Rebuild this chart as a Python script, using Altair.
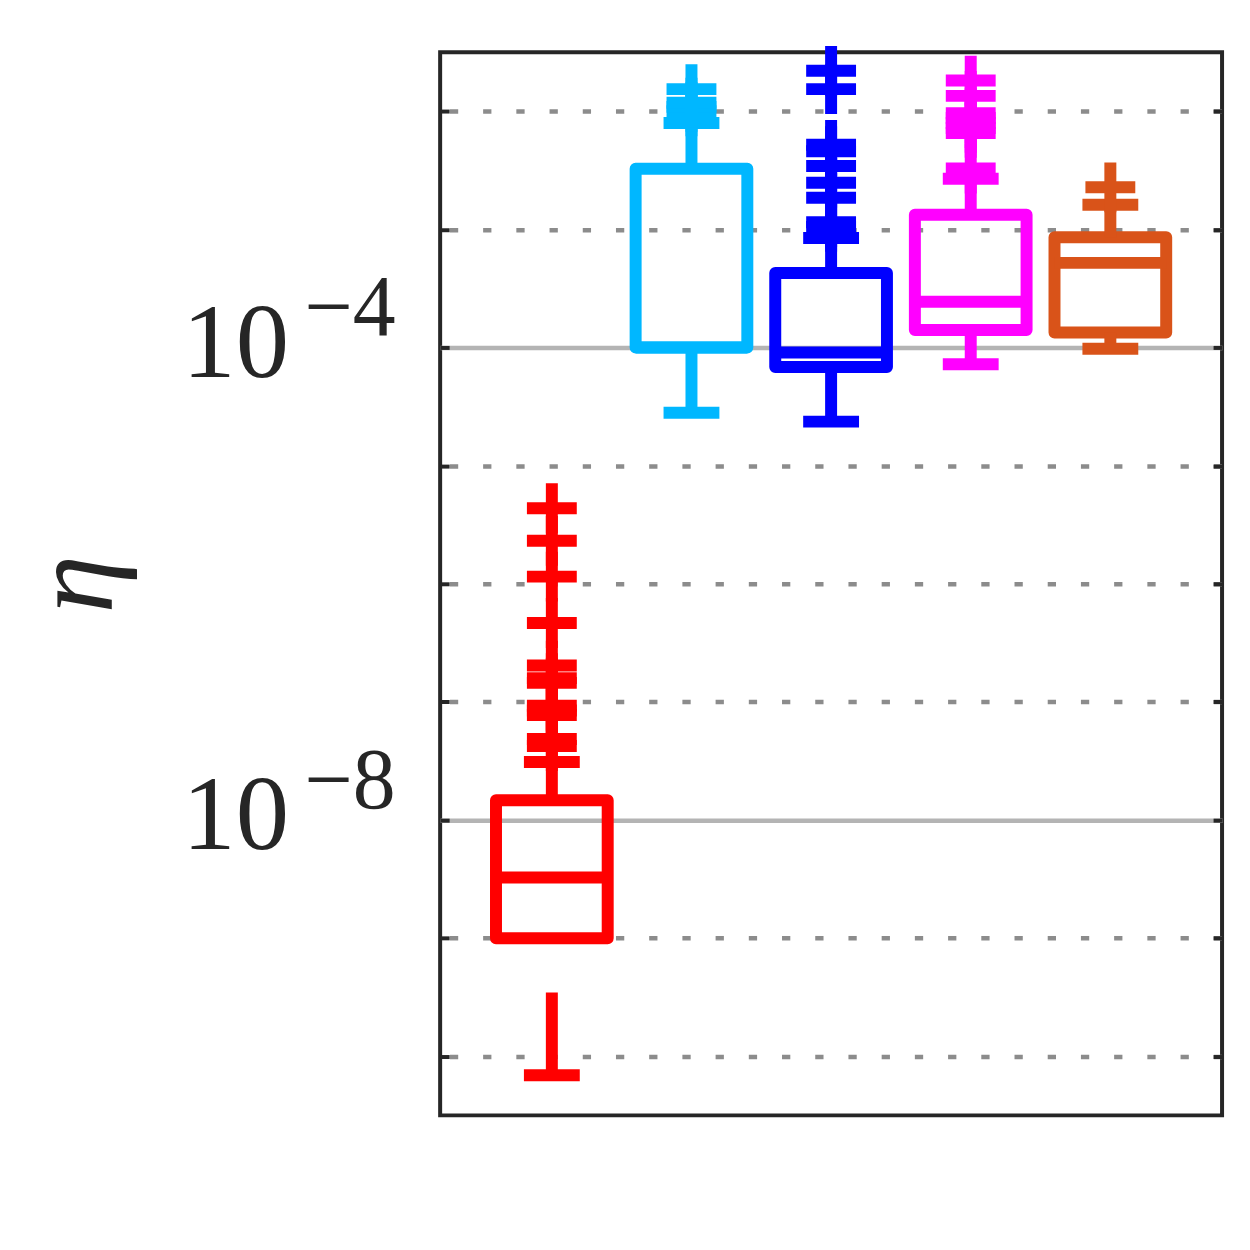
import altair as alt
import pandas as pd

# ---- data ----
positions = [1, 2, 3, 4, 5]
colors = ["#FF0000", "#00B7FF", "#0000FF", "#FF00FF", "#D95319"]
lower_whisker = [6.92e-11, 2.80e-5, 2.36e-5, 7.23e-5, 9.75e-5]
q1 = [1.00e-9, 1.00e-4, 6.84e-5, 1.41e-4, 1.34e-4]
median = [3.26e-9, 1.00e-4, 9.08e-5, 2.44e-4, 5.21e-4]
q3 = [1.47e-8, 3.26e-3, 4.27e-4, 1.33e-3, 8.59e-4]
upper_whisker = [3.10e-8, 7.96e-3, 8.47e-4, 2.69e-3, 1.62e-3]

outliers_1 = [4.24e-8, 4.85e-8, 7.74e-8, 8.47e-8, 9.29e-8, 1.45e-7, 1.59e-7,
              2.03e-7, 4.66e-7, 1.15e-6, 2.31e-6, 4.36e-6]
outliers_2 = [1.00e-2, 1.09e-2, 1.18e-2, 1.54e-2]
outliers_3 = [1.05e-3, 1.15e-3, 1.85e-3, 2.48e-3, 3.44e-3, 4.59e-3, 5.20e-3,
              1.54e-2, 2.20e-2]
outliers_4 = [3.28e-3, 6.56e-3, 7.23e-3, 7.96e-3, 8.77e-3, 9.62e-3, 1.35e-2, 1.82e-2]
outliers_5 = [2.27e-3]
outliers = [outliers_1, outliers_2, outliers_3, outliers_4, outliers_5]

tick_values = [1e-10, 1e-9, 1e-8, 1e-7, 1e-6, 1e-5, 1e-4, 1e-3, 1e-2]
label_base = ["", "", "10", "", "", "", "10", "", ""]
label_exponent = ["", "", "\u22128", "", "", "", "\u22124", "", ""]
solid_grid = [1e-8, 1e-4]
y_title = "\u03b7"

# ---- tables ----
box_df = pd.DataFrame({"pos": positions, "color": colors, "q1": q1,
                       "median": median, "q3": q3})
whisk_rows = []
for p, c, lw, a, b, uw in zip(positions, colors, lower_whisker, q1, q3, upper_whisker):
    whisk_rows.append({"pos": p, "color": c, "end": lw, "edge": a})
    whisk_rows.append({"pos": p, "color": c, "end": uw, "edge": b})
whisk_df = pd.DataFrame(whisk_rows)
out_rows = []
for p, c, vals in zip(positions, colors, outliers):
    for v in vals:
        out_rows.append({"pos": p, "color": c, "value": v})
out_df = pd.DataFrame(out_rows)


def make_label_expr(texts):
    parts = [f"datum.value === {v!r} ? '{t}'" for v, t in zip(tick_values, texts) if t]
    return " : ".join(parts) + " : ''"


solid_test = " || ".join(f"datum.value === {v!r}" for v in solid_grid)

x_scale = alt.Scale(domain=[0.2, 5.8], nice=False, zero=False)
y_scale = alt.Scale(type="log", domain=[10 ** -10.5, 10 ** -1.5], nice=False)

dark = "#262626"
serif = "Liberation Serif"
left_axis = alt.Axis(
    orient="left", values=tick_values, labelExpr=make_label_expr(label_base),
    labelOverlap=False, labelLimit=0,
    offset=-9, domain=False, ticks=True, tickSize=9, tickWidth=4, tickColor=dark,
    grid=True,
    gridDash={"condition": {"test": solid_test, "value": []}, "value": [8.3, 25]},
    gridColor={"condition": {"test": solid_test, "value": "#b4b4b4"}, "value": "#8c8c8c"},
    gridWidth=4.5, gridDashOffset=24, gridOpacity=1,
    labelFont=serif, labelFontSize=107, labelColor=dark,
    labelPadding=152, labelBaseline="middle", labelOffset=-3,
    title=y_title, titleFont=serif, titleFontStyle="italic",
    titleFontWeight="normal", titleFontSize=118, titleColor=dark,
    titleX=-339, titleY=533, titleBaseline="alphabetic", titleAngle=270,
)
exp_axis = alt.Axis(
    orient="left", values=tick_values, labelExpr=make_label_expr(label_exponent),
    labelOverlap=False, labelLimit=0,
    offset=-9, domain=False, ticks=True, tickSize=9, tickOpacity=0, grid=False,
    labelFont=serif, labelFontSize=86, labelColor=dark,
    labelPadding=45, labelBaseline="middle", labelOffset=-39, title="",
)
right_axis = alt.Axis(
    orient="right", values=tick_values, labels=False, offset=-9, domain=False,
    ticks=True, tickSize=9, tickWidth=4, tickColor=dark, grid=False, title="",
)

col = alt.Color("color:N", scale=None)
lw = 12

box = alt.Chart(box_df).mark_rect(
    fillOpacity=0, strokeWidth=lw, strokeJoin="round"
).transform_calculate(
    x0="datum.pos - 0.4", x1="datum.pos + 0.4"
).encode(
    x=alt.X("x0:Q", scale=x_scale, axis=None), x2="x1:Q",
    y=alt.Y("q1:Q", scale=y_scale, axis=left_axis), y2="q3:Q",
    stroke=alt.Stroke("color:N", scale=None),
)

med = alt.Chart(box_df).mark_rule(strokeWidth=lw).transform_calculate(
    x0="datum.pos - 0.4", x1="datum.pos + 0.4"
).encode(
    x=alt.X("x0:Q", scale=x_scale, axis=None), x2="x1:Q",
    y=alt.Y("median:Q", scale=y_scale, axis=exp_axis), color=col,
)

whiskers = alt.Chart(whisk_df).mark_rule(strokeWidth=lw, strokeDash=[83, 55]).encode(
    x=alt.X("pos:Q", scale=x_scale, axis=None),
    y=alt.Y("end:Q", scale=y_scale, axis=None), y2="edge:Q", color=col,
)

caps = alt.Chart(whisk_df).mark_rule(strokeWidth=lw).transform_calculate(
    c0="datum.pos - 0.2", c1="datum.pos + 0.2"
).encode(
    x=alt.X("c0:Q", scale=x_scale, axis=None), x2="c1:Q",
    y=alt.Y("end:Q", scale=y_scale, axis=None), color=col,
)

pts = alt.Chart(out_df).mark_point(
    shape="M-1,0L1,0M0,-1L0,1", size=2500, strokeWidth=lw, filled=False, opacity=1
).encode(
    x=alt.X("pos:Q", scale=x_scale, axis=None),
    y=alt.Y("value:Q", scale=y_scale, axis=right_axis), color=col,
)

chart = alt.layer(box, whiskers, caps, med, pts).resolve_axis(
    y="independent"
).properties(
    width=784, height=1066,
    autosize=alt.AutoSizeParams(type="none"),
    padding={"left": 433.3, "top": 42.7, "right": 20, "bottom": 120},
    background="white",
).configure_view(stroke=dark, strokeWidth=4)

chart.save("out.html", embed_options={"renderer": "svg", "actions": False})
